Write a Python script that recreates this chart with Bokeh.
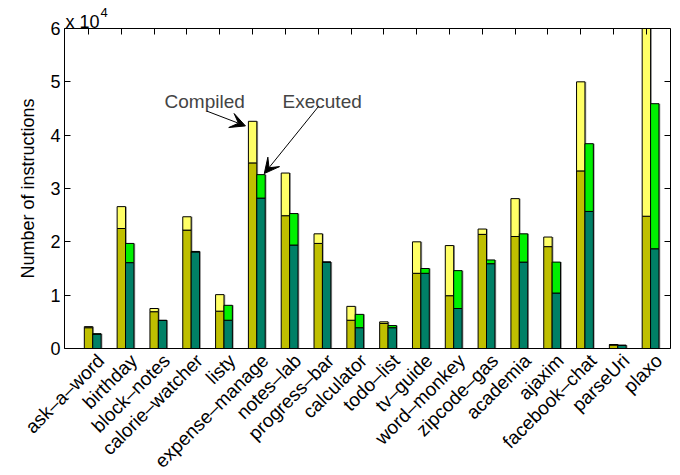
from bokeh.plotting import figure
from bokeh.models import (Range1d, LinearAxis, FixedTicker, Label, LabelSet, Arrow, VeeHead,
                          ColumnDataSource)
from bokeh.core.properties import value
from bokeh.embed import file_html
from bokeh.resources import INLINE
import math

categories = ["ask–a–word", "birthday", "block–notes", "calorie–watcher", "listy",
              "expense–manage", "notes–lab", "progress–bar", "calculator", "todo–list",
              "tv–guide", "word–monkey", "zipcode–gas", "academia", "ajaxim",
              "facebook–chat", "parseUri", "plaxo"]
compiled_base = [3900, 22500, 6900, 22200, 7000, 34800, 24900, 19700, 5300, 4700,
                 14100, 9900, 21400, 21000, 19100, 33300, 650, 24800]
compiled_total = [4100, 26600, 7500, 24700, 10100, 42600, 32900, 21500, 7900, 5000,
                  20000, 19300, 22400, 28100, 20900, 50000, 750, 60000]
executed_base = [2700, 16100, 5250, 18100, 5300, 28200, 19400, 16200, 3900, 3900,
                 14100, 7500, 15900, 16200, 10400, 25700, 580, 18700]
executed_total = [2750, 19700, 5300, 18200, 8100, 32600, 25300, 16200, 6400, 4300,
                  15000, 14600, 16600, 21500, 16200, 38400, 620, 45900]
y_ticks = [0, 10000, 20000, 30000, 40000, 50000, 60000]
y_tick_labels = ["0", "1", "2", "3", "4", "5", "6"]

FONT = "Liberation Sans"
BW = 0.256          # bar width (data units)
LABEL_SHIFT = 0.38  # category labels sit right of the compiled bar centre
Y_MAX = 60000
X_LEFT, X_RIGHT = -0.232, 18.235   # visible axes box
# The drawing frame covers the whole canvas so that texts outside the axes box stay visible
PLOT_W, PLOT_H, RIGHT_PAD = 680, 475, 10
TOP_PX, LEFT_PX, AXIS_PX_H, AXIS_PX_W = 28, 64, 320, 606
PX_Y = Y_MAX / AXIS_PX_H
PX_X = (X_RIGHT - X_LEFT) / AXIS_PX_W
Y_MIN = -(PLOT_H - TOP_PX - AXIS_PX_H) * PX_Y
Y_TOP = Y_MAX + TOP_PX * PX_Y
X_MIN = X_LEFT - LEFT_PX * PX_X

n = len(categories)
xc = [i + 0.5 for i in range(n)]          # compiled bar centres
xe = [x + BW for x in xc]                 # executed bar centres
label_x = [x + LABEL_SHIFT for x in xc]   # category label anchors

p = figure(width=PLOT_W, height=PLOT_H, output_backend="svg", toolbar_location=None,
           x_range=Range1d(X_MIN, X_RIGHT), y_range=Range1d(Y_MIN, Y_TOP),
           min_border_left=0, min_border_right=RIGHT_PAD, min_border_top=0, min_border_bottom=0,
           x_axis_type=None, y_axis_type=None)
p.title.visible = False
p.xgrid.grid_line_color = None
p.ygrid.grid_line_color = None
p.outline_line_color = None
p.background_fill_color = "white"
p.border_fill_color = "white"

# shadows (MATLAB-like)
sh = 0.04
p.vbar(x=[x + sh for x in xc], width=BW, bottom=0, top=compiled_total,
       fill_color="#9a9a9a", line_color=None)
p.vbar(x=[x + sh for x in xe], width=BW, bottom=0, top=executed_total,
       fill_color="#9a9a9a", line_color=None)

# compiled
p.vbar(x=xc, width=BW, bottom=0, top=compiled_base, fill_color="#BFBF00", line_color="black", line_width=1)
p.vbar(x=xc, width=BW, bottom=compiled_base, top=compiled_total, fill_color="#FFFF66", line_color="black", line_width=1)
# executed
p.vbar(x=xe, width=BW, bottom=0, top=executed_base, fill_color="#008066", line_color="black", line_width=1)
p.vbar(x=xe, width=BW, bottom=executed_base, top=executed_total, fill_color="#00F000", line_color="black", line_width=1)


def bare_axis(**kw):
    ax = LinearAxis(major_label_text_font_size="0px", **kw)
    ax.major_tick_in = 6
    ax.major_tick_out = 0
    ax.major_label_standoff = 0
    ax.minor_tick_line_color = None
    ax.major_label_text_color = None
    ax.axis_line_color = "black"
    ax.axis_line_width = 1
    return ax


yl = bare_axis(ticker=FixedTicker(ticks=y_ticks), bounds=(0, Y_MAX), fixed_location=X_LEFT)
p.add_layout(yl, "left")
yr = bare_axis(ticker=FixedTicker(ticks=y_ticks), bounds=(0, Y_MAX))
p.add_layout(yr, "right")
xt = bare_axis(ticker=FixedTicker(ticks=xc), bounds=(X_LEFT, X_RIGHT), fixed_location=Y_MAX)
p.add_layout(xt, "above")
xb = bare_axis(ticker=FixedTicker(ticks=[]), bounds=(X_LEFT, X_RIGHT), fixed_location=0)
xb.major_tick_line_color = None
p.add_layout(xb, "below")

# y tick labels, exponent and axis title
ysrc = ColumnDataSource(dict(x=[X_LEFT] * len(y_ticks), y=y_ticks, text=y_tick_labels))
p.add_layout(LabelSet(x="x", y="y", text="text", source=ysrc, x_offset=-4,
                      text_align="right", text_baseline="middle",
                      text_font=value(FONT), text_font_size=value("18px"), text_color="black"))
p.add_layout(Label(x=X_LEFT, y=Y_MAX, x_offset=1, y_offset=7, text="x 10",
                   text_align="left", text_baseline="alphabetic",
                   text_font=FONT, text_font_size="18px", text_color="black"))
p.add_layout(Label(x=X_LEFT, y=Y_MAX, x_offset=36, y_offset=16, text="4",
                   text_align="left", text_baseline="alphabetic",
                   text_font=FONT, text_font_size="13px", text_color="black"))
p.add_layout(Label(x=X_LEFT, y=Y_MAX / 2, x_offset=-37, text="Number of instructions",
                   angle=math.pi / 2, text_align="center", text_baseline="middle",
                   text_font=FONT, text_font_size="18px", text_color="black"))

# rotated category labels
lab_src = ColumnDataSource(dict(x=label_x, y=[0] * n, text=categories))
p.add_layout(LabelSet(x="x", y="y", text="text", source=lab_src, y_offset=-9,
                      angle=math.pi / 4, text_align="right", text_baseline="middle",
                      text_font=value(FONT), text_font_size=value("19px"), text_color="black"))

# annotations
ie = categories.index("expense–manage")
p.add_layout(Label(x=4.04, y=46400, text="Compiled", text_font=FONT, text_font_size="19px",
                   text_align="center", text_baseline="alphabetic"))
p.add_layout(Label(x=7.62, y=46400, text="Executed", text_font=FONT, text_font_size="19px",
                   text_align="center", text_baseline="alphabetic"))
p.add_layout(Arrow(end=VeeHead(size=15, fill_color="black", line_color="black"),
                   x_start=4.11, y_start=44500,
                   x_end=xc[ie] - BW / 2 - 0.09, y_end=compiled_total[ie] - 860,
                   line_color="black", line_width=1))
p.add_layout(Arrow(end=VeeHead(size=15, fill_color="black", line_color="black"),
                   x_start=7.51, y_start=45400,
                   x_end=xe[ie] + 0.1, y_end=executed_total[ie] + 200,
                   line_color="black", line_width=1))

open("out.html", "w").write(file_html(p, INLINE))
